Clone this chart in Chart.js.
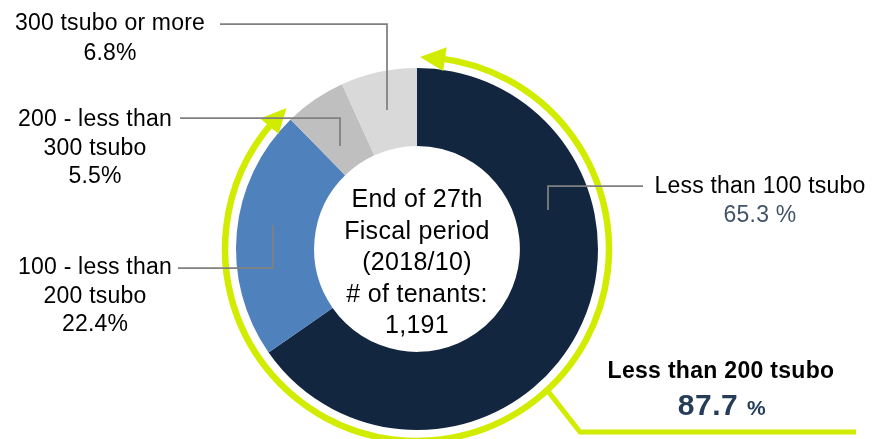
<!DOCTYPE html>
<html>
<head>
<meta charset="utf-8">
<script src="https://cdn.jsdelivr.net/npm/chart.js@4.4.0/dist/chart.umd.min.js"></script>
<style>
  html, body { margin: 0; padding: 0; background: #ffffff; }
  #wrap { width: 873px; height: 439px; }
</style>
</head>
<body>
<div id="wrap"><canvas id="tenantChart" width="873" height="439"></canvas></div>
<script>
// Tenants by leased area (tsubo)

const categories = [
  "Less than 100 tsubo",
  "100 - less than 200 tsubo",
  "200 - less than 300 tsubo",
  "300 tsubo or more",
];
const shares = [65.3, 22.4, 5.5, 6.8];
const sliceColors = ["#13263f", "#4f81bd", "#bfbfbf", "#d9d9d9"];

// how each category label is broken into lines
const labelLines = [
  ["Less than 100 tsubo"],
  ["100 - less than", "200 tsubo"],
  ["200 - less than", "300 tsubo"],
  ["300 tsubo or more"],
];

const centerLines = ["End of 27th", "Fiscal period", "(2018/10)", "# of tenants:", "1,191"];
const highlightTitle = "Less than 200 tsubo";
const highlightShare = (shares[0] + shares[1]).toFixed(1);

const FONT = "'Liberation Sans', Arial, sans-serif";
const GREEN = "#d2ec00";

// label anchor points (centre x, first baseline) and leader paths
const labelPos = [
  { x: 760, y: 193, step: 29, leader: [[643, 186], [548, 186], [548, 210]] },
  { x: 95, y: 274, step: 28.5, leader: [[178, 268], [273, 268], [273, 225]] },
  { x: 95, y: 126, step: 28.5, leader: [[180, 118], [340, 118], [340, 146]] },
  { x: 110, y: 30, step: 29.5, leader: [[220, 24], [387, 24], [387, 110]] },
];

function arrowHead(ctx, cx, cy, r, tip, dir, len, half) {
  const base = tip - (dir * len) / r;
  ctx.beginPath();
  ctx.moveTo(cx + r * Math.cos(tip), cy + r * Math.sin(tip));
  ctx.lineTo(cx + (r + half) * Math.cos(base), cy + (r + half) * Math.sin(base));
  ctx.lineTo(cx + (r - half) * Math.cos(base), cy + (r - half) * Math.sin(base));
  ctx.closePath();
  ctx.fill();
}

const overlayPlugin = {
  id: "overlay",
  afterDraw(chart) {
    const ctx = chart.ctx;
    const arcs = chart.getDatasetMeta(0).data;
    const first = arcs[0].getProps(["x", "y", "startAngle", "endAngle", "outerRadius"], true);
    const second = arcs[1].getProps(["endAngle"], true);
    const cx = first.x;
    const cy = first.y;
    const R = first.outerRadius + 11;

    ctx.save();

    // green ring covering the two smallest-area groups
    const startA = first.startAngle + 3 / R;
    const endA = second.endAngle + 5 / R;
    const headLen = 25;
    ctx.strokeStyle = GREEN;
    ctx.fillStyle = GREEN;
    ctx.lineWidth = 6.5;
    ctx.beginPath();
    ctx.arc(cx, cy, R, startA + (headLen * 0.8) / R, endA - (headLen * 0.8) / R);
    ctx.stroke();
    arrowHead(ctx, cx, cy, R, startA, -1, headLen, 12);
    arrowHead(ctx, cx, cy, R, endA, 1, headLen, 12);

    // connector to the highlight text
    const connA = 0.826;
    ctx.lineWidth = 5;
    ctx.beginPath();
    ctx.moveTo(cx + R * Math.cos(connA), cy + R * Math.sin(connA));
    ctx.lineTo(580, 432);
    ctx.lineTo(856, 432);
    ctx.stroke();

    // leader lines
    ctx.strokeStyle = "#808080";
    ctx.lineWidth = 1.75;
    labelPos.forEach((p) => {
      ctx.beginPath();
      p.leader.forEach(([x, y], k) => (k === 0 ? ctx.moveTo(x, y) : ctx.lineTo(x, y)));
      ctx.stroke();
    });

    // category labels
    ctx.textAlign = "center";
    ctx.textBaseline = "alphabetic";
    ctx.letterSpacing = "0.2px";
    labelPos.forEach((p, i) => {
      ctx.font = `23px ${FONT}`;
      ctx.fillStyle = "#000000";
      labelLines[i].forEach((line, k) => ctx.fillText(line, p.x, p.y + k * p.step));
      const yPct = p.y + labelLines[i].length * p.step;
      if (i === 0) {
        ctx.fillStyle = "#44546a";
        ctx.fillText(`${shares[i].toFixed(1)} %`, p.x, yPct);
      } else {
        ctx.fillText(`${shares[i].toFixed(1)}%`, p.x, yPct);
      }
    });

    // centre text
    ctx.font = `25px ${FONT}`;
    ctx.fillStyle = "#000000";
    ctx.letterSpacing = "0.3px";
    centerLines.forEach((line, k) => ctx.fillText(line, cx, 207 + k * 31.5));

    // highlight
    ctx.font = `bold 23px ${FONT}`;
    ctx.letterSpacing = "0.3px";
    ctx.fillText(highlightTitle, 721, 378);
    ctx.fillStyle = "#263d5a";
    ctx.letterSpacing = "0.5px";
    ctx.font = `bold 30px ${FONT}`;
    const numW = ctx.measureText(highlightShare + " ").width;
    ctx.font = `bold 21px ${FONT}`;
    const pctW = ctx.measureText("%").width;
    const left = 722 - (numW + pctW) / 2;
    ctx.textAlign = "left";
    ctx.font = `bold 30px ${FONT}`;
    ctx.fillText(highlightShare + " ", left, 415);
    ctx.font = `bold 21px ${FONT}`;
    ctx.fillText("%", left + numW, 415);

    ctx.restore();
  },
};

new Chart(document.getElementById("tenantChart"), {
  type: "doughnut",
  data: {
    labels: categories,
    datasets: [
      {
        data: shares,
        backgroundColor: sliceColors,
        borderWidth: 0,
      },
    ],
  },
  options: {
    responsive: false,
    animation: false,
    radius: 181,
    cutout: 108,
    layout: { padding: { top: 59, bottom: 0, left: 0, right: 39 } },
    plugins: {
      legend: { display: false },
      tooltip: { enabled: false },
    },
  },
  plugins: [overlayPlugin],
});
</script>
</body>
</html>
